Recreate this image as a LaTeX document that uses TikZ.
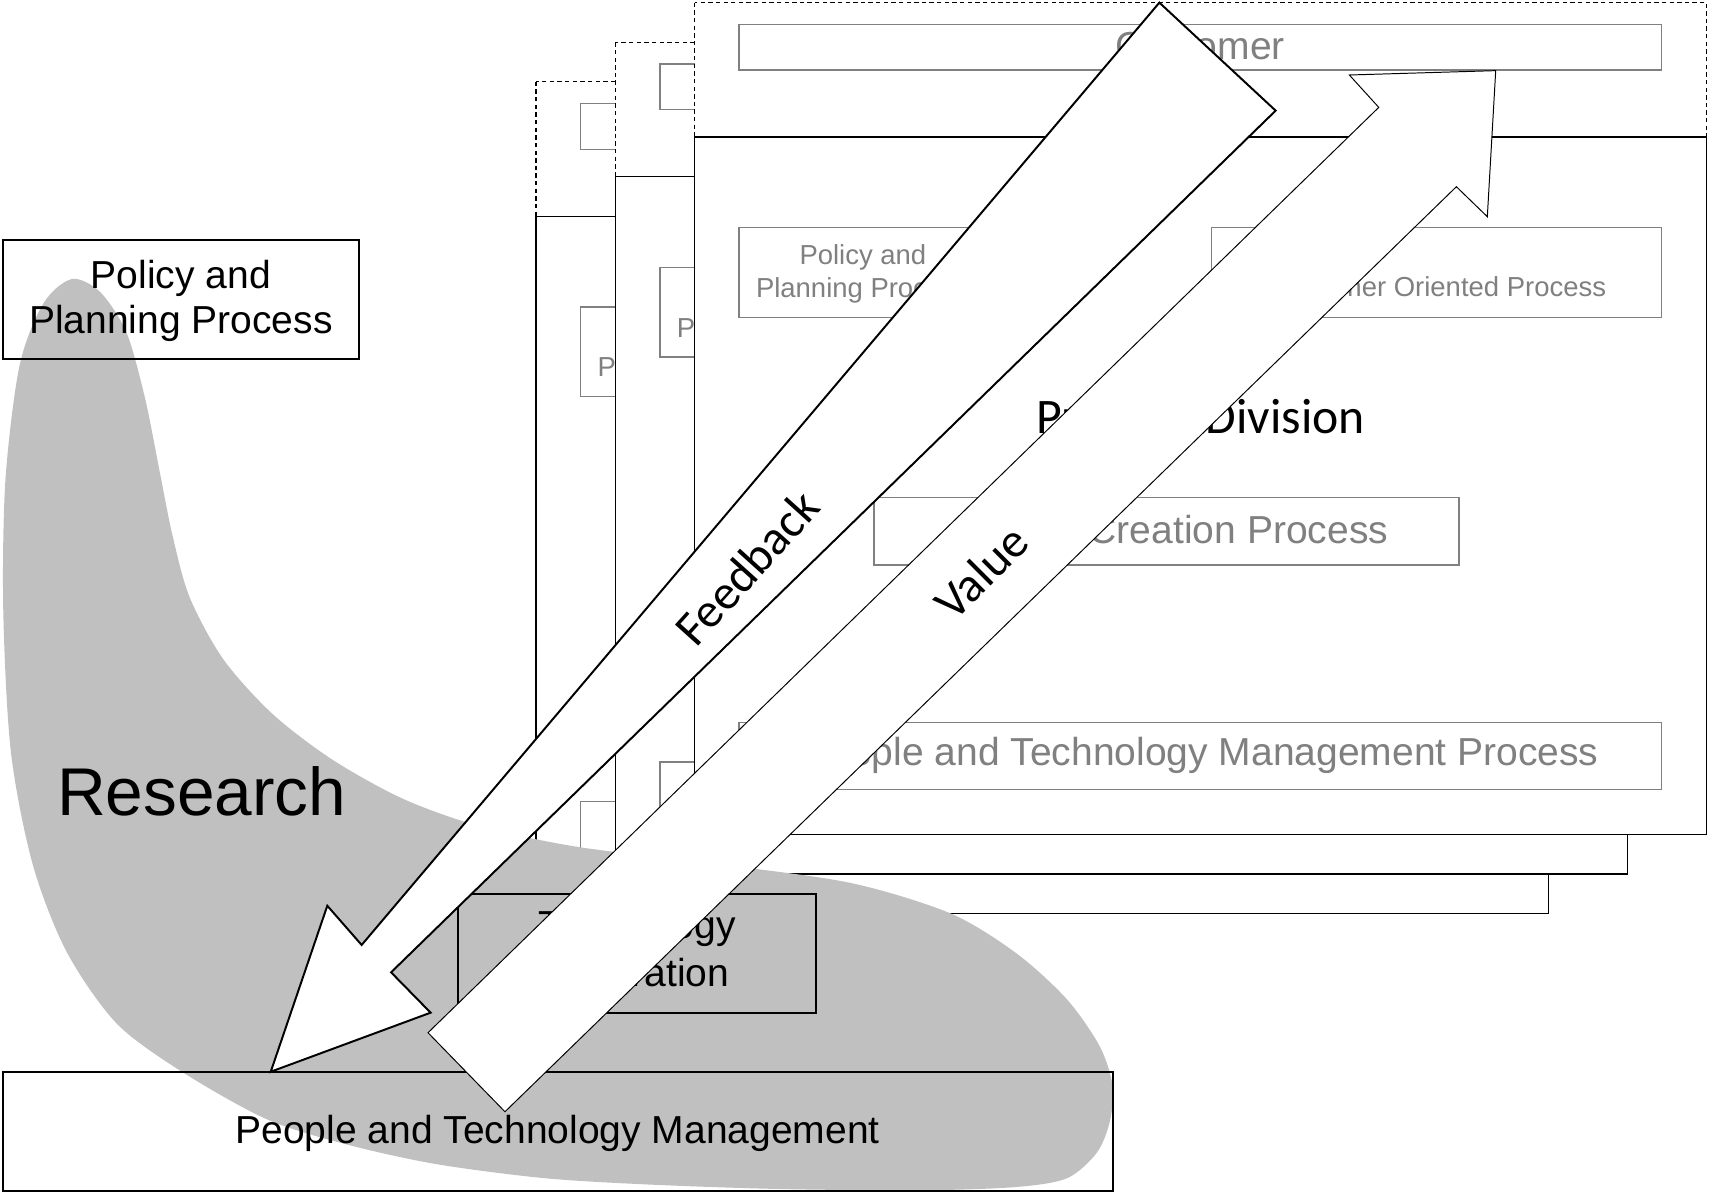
\documentclass[tikz,border=0pt]{standalone}
\usepackage{fontspec}
\setmainfont{Liberation Sans}
\newfontfamily\calfont{Carlito}
\definecolor{blobgray}{RGB}{192,192,192}
\definecolor{boxgray}{RGB}{128,128,128}
\tikzset{
 pageframe/.style={draw=black, line width=0.5pt, dash pattern=on 2pt off 1.5pt},
 pagebody/.style={draw=black, line width=0.6pt},
 graybox/.style={draw=boxgray, line width=0.65pt},
 graytxt/.style={text=boxgray, inner sep=0pt, font=\fontsize{17.9}{20}\selectfont},
 graysmall/.style={text=boxgray, inner sep=0pt, font=\fontsize{12.6}{15}\selectfont},
 blacktxt/.style={text=black, inner sep=0pt, font=\fontsize{17.9}{20}\selectfont},
 blackbox/.style={draw=black, line width=0.9pt},
 bigarrow/.style={fill=white, draw=black, line join=miter},
 arrowtxt/.style={inner sep=0pt, font=\calfont\fontsize{22.4}{26}\selectfont},
 divtxt/.style={inner sep=0pt, font=\calfont\fontsize{22.8}{26}\selectfont},
}
% #1 name prefix, #2 shift, #3 = 1 for the front page (all its texts are visible)
\newcommand\mypage[3]{%
\begin{scope}[shift={#2}]
\fill[white] (0,0) rectangle (928.7,763.1);
\draw[pageframe] (0,0) rectangle (928.7,763.1);
\draw[pagebody] (0,123.3) rectangle (928.7,763.1);
\draw[graybox] (40.8,19.9) rectangle (887.3,61.8);
\draw[graybox] (40.8,206.5) rectangle (267.8,288.7);
\draw[graybox] (474.5,206.5) rectangle (887.3,288.7);
\draw[graybox] (164.8,453.9) rectangle (701.4,516);
\draw[graybox] (40.8,660.3) rectangle (887.3,721.8);
\node[graysmall, anchor=base] (#1pola) at (154.5,240.7) {Policy and};
\node[graysmall, anchor=base] (#1polb) at (154.5,270.7) {Planning Process};
\ifnum#3=1
\node[graytxt, anchor=base] (#1cust) at (464,52) {Customer};
\node[graysmall, anchor=base] (#1cop) at (680.9,269.8) {Customer Oriented Process};
\node[divtxt, anchor=base] (#1div) at (464.3,395.2) {Product Division};
\node[graytxt, anchor=base east] (#1vcp) at (636.8,496.1) {Value Creation Process};
\node[graytxt, anchor=base] (#1ptmp) at (464.3,699.5) {People and Technology Management Process};
\fi
\end{scope}}
\begin{document}
\begin{tikzpicture}[x=0.5pt,y=-0.5pt]
\useasboundingbox (0,0) rectangle (1568,1094.6);
\mypage{pc}{(491.8,75.1)}{0}
\mypage{pb}{(564.6,38.8)}{0}
\mypage{pa}{(637.2,2.4)}{1}
\fill[blobgray] plot[smooth cycle, tension=0.5] coordinates {
 (66,256) (92,268) (116,305) (133,365) (146,430) (158,490) (174,548) (205,605)
 (250,655) (305,697) (370,733) (440,758) (530,777) (660,793) (780,810) (872,838)
 (933,875) (979,917) (1009,960) (1021,997) (1018,1030) (1006,1058) (979,1081)
 (933,1089) (850,1092) (720,1091) (600,1087) (500,1081) (400,1068) (318,1050)
 (245,1027) (168,984) (107,939) (61,873) (30,793) (10,690) (3,560) (5,440)
 (18,335) (40,278)};
\draw[blackbox] (2.4,220.2) rectangle (329.7,329.7);
\node[blacktxt, anchor=base] (pola) at (166,264.5) {Policy and};
\node[blacktxt, anchor=base] (polb) at (166,305.8) {Planning Process};
\draw[blackbox] (420.5,820.6) rectangle (748.4,929.7);
\node[blacktxt, anchor=base] (tia) at (584.5,861) {Technology};
\node[blacktxt, anchor=base] (tib) at (584.5,905.5) {Integration};
\draw[blackbox] (2.4,983.9) rectangle (1020.9,1092.8);
\node[blacktxt, anchor=base] (ptm) at (511.6,1049) {People and Technology Management};
\node[anchor=base west, inner sep=0pt, font=\fontsize{31}{36}\selectfont] (research) at (52,748.3) {Research};
\draw[bigarrow, line width=0.9pt] (1063.7,2.4) -- (1170.4,101.5) -- (358.8,892.1) -- (395.1,929.1) -- (248.4,983.3) -- (300.3,831) -- (331.8,867) -- cycle;
\node[arrowtxt, rotate=48] (fb) at (685,521) {Feedback};
\draw[bigarrow, line width=0.45pt] (392.7,947.5) -- (1265,98.5) -- (1238,68.8) -- (1372.3,64.8) -- (1364.6,198.8) -- (1336.2,171.3) -- (463.3,1020) -- cycle;
\node[arrowtxt, rotate=45] (val) at (900,525) {Value};
\end{tikzpicture}
\end{document}
